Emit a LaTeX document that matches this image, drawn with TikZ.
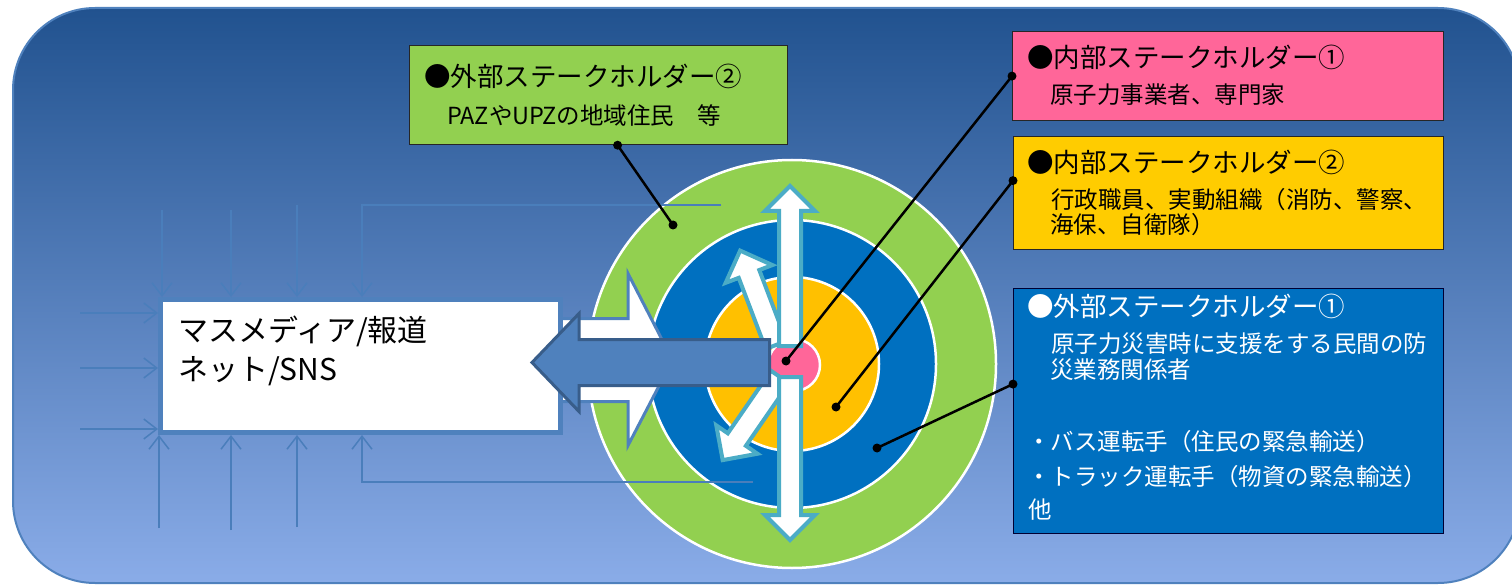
\documentclass[tikz,border=0pt]{standalone}
\usepackage{fontspec}
\setmainfont{Noto Sans CJK JP}
\usetikzlibrary{arrows.meta,calc}
\definecolor{bgtop}{RGB}{33,82,143}
\definecolor{bgbot}{RGB}{138,172,232}
\definecolor{bgline}{RGB}{79,129,189}
\definecolor{thinblue}{RGB}{74,126,187}
\definecolor{ringgreen}{RGB}{146,208,80}
\definecolor{ringblue}{RGB}{0,112,192}
\definecolor{ringyellow}{RGB}{255,192,0}
\definecolor{ringpink}{RGB}{255,102,153}
\definecolor{boxyellow}{RGB}{255,204,0}
\definecolor{arrowblue}{RGB}{79,129,189}
\definecolor{arrowdark}{RGB}{56,93,138}
\definecolor{aqua}{RGB}{75,172,198}
\tikzset{
  bodytxt/.style={inner sep=0pt, anchor=base west, font=\fontsize{23.5}{27}\selectfont},
  titletxt/.style={inner sep=0pt, anchor=base west, font=\fontsize{26.5}{30}\selectfont},
  mediatxt/.style={inner sep=0pt, anchor=base west, font=\fontsize{30}{34}\selectfont},
  infobox/.style={draw=black!85, line width=1.2pt, anchor=north west, inner sep=0pt},
  thinarrow/.style={draw=thinblue, line width=1.5pt, -{Straight Barb[length=13pt,width=20pt]}},
  ring/.style={draw=white, line width=2.5pt},
  stararrow/.style={draw=aqua, fill=white, line width=4pt, line join=miter},
  leader/.style={draw=black, line width=2.5pt},
  leaderdot/.style={fill=black},
}
\newcommand\blockarrowat[6]{% x, y, angle, length, shaft half width, head half width
  \begin{scope}[shift={(#1,#2)}, rotate=#3]
    \draw[stararrow] (0,-#5) -- ({#4-25},-#5) -- ({#4-25},-#6) -- (#4,0)
      -- ({#4-25},#6) -- ({#4-25},#5) -- (0,#5) -- cycle;
  \end{scope}}
\begin{document}
\begin{tikzpicture}[x=1pt,y=-1pt]
\useasboundingbox (0,0) rectangle (1512,585);
% background
\path[top color=bgtop, bottom color=bgbot, draw=bgline, line width=2pt, rounded corners=82pt]
  (13,8) rectangle (1520,583);

% target rings
\filldraw[ring, fill=ringgreen] (792,364) circle[radius=204pt];
\filldraw[ring, fill=ringblue] (792,364) circle[radius=144pt];
\filldraw[ring, fill=ringyellow] (792,364) circle[radius=87pt];
\filldraw[ring, fill=ringpink] (794,365) circle[radius=26pt];

\coordinate (mmc) at (360.5,366);

% white right arrow (behind box)
\draw[draw=bgline, fill=white, line width=3pt, line join=miter]
  (555,318.5) -- (628,318.5) -- (628,273.5) -- (672.5,360) -- (628,445.5)
  -- (628,401.5) -- (555,401.5) -- cycle;

\node[draw=bgline, fill=white, line width=5pt, minimum width=400pt, minimum height=133pt, inner sep=0pt] (mm) at (mmc) {};
\node[mediatxt] (mmt1) at (178,341) {マスメディア/報道};
\node[mediatxt] (mmt2) at (178,380) {ネット/SNS};

% thin arrows into the media box
\coordinate (l1) at (80,313);
\coordinate (l2) at (80,368);
\coordinate (l3) at (80,429);
\draw[thinarrow] (l1) -- (l1 -| mm.west);
\draw[thinarrow] (l2) -- (l2 -| mm.west);
\draw[thinarrow] (l3) -- (l3 -| mm.west);
\coordinate (t1) at (162,210);
\coordinate (t2) at (231,210);
\coordinate (t3) at (297,205);
\coordinate (t4) at (721,205);
\draw[thinarrow] (t1) -- (t1 |- mm.north);
\draw[thinarrow] (t2) -- (t2 |- mm.north);
\draw[thinarrow] (t3) -- (t3 |- mm.north);
\draw[thinarrow] (t4) -- (362,205) -- (362,0 |- mm.north);
\coordinate (b1) at (159,528);
\coordinate (b2) at (231,530);
\coordinate (b3) at (297,527);
\coordinate (b4) at (753,482);
\draw[thinarrow] (b1) -- (b1 |- mm.south);
\draw[thinarrow] (b2) -- (b2 |- mm.south);
\draw[thinarrow] (b3) -- (b3 |- mm.south);
\draw[thinarrow] (b4) -- (362,482) -- (362,0 |- mm.south);

% radiating arrows
\blockarrowat{776}{345}{110.8}{101}{11}{25}
\blockarrowat{780}{377}{235.4}{101}{11}{25}
\blockarrowat{790}{346}{90}{160}{11}{25}
\blockarrowat{790}{377}{-90}{163}{11}{25}

% blue left arrow
\draw[draw=arrowdark, fill=arrowblue, line width=3pt, line join=miter]
  (769.5,339.5) -- (579,339.5) -- (579,313.5) -- (532,362.5) -- (579,411.5)
  -- (579,385.5) -- (769.5,385.5) -- cycle;

% info boxes
\node[infobox, fill=ringgreen, minimum width=378pt, minimum height=99pt] (gbox) at (409,45) {};
\node[titletxt] (gt1) at (424,86.6) {●外部ステークホルダー②};
\node[bodytxt] (gt2) at (447,125) {PAZやUPZの地域住民　等};

\node[infobox, fill=ringpink, minimum width=431pt, minimum height=89pt] (pbox) at (1012,31) {};
\node[titletxt] (pt1) at (1027,67.1) {●内部ステークホルダー①};
\node[bodytxt] (pt2) at (1050,103.5) {原子力事業者、専門家};

\node[infobox, fill=boxyellow, minimum width=430pt, minimum height=113pt] (ybox) at (1013,136) {};
\node[titletxt] (yt1) at (1027,172.1) {●内部ステークホルダー②};
\node[bodytxt] (yt2) at (1051,209) {行政職員、実動組織（消防、警察、};
\node[bodytxt] (yt3) at (1050,233.5) {海保、自衛隊）};

\node[infobox, draw=black!80!blue, fill=ringblue, minimum width=430pt, minimum height=245pt] (bbox) at (1013,288) {};
\begin{scope}[text=white]
\node[titletxt] (bt1) at (1027,316.8) {●外部ステークホルダー①};
\node[bodytxt] (bt2) at (1051,352.5) {原子力災害時に支援をする民間の防};
\node[bodytxt] (bt3) at (1050,378.5) {災業務関係者};
\node[bodytxt] (bt4) at (1027,450.5) {・バス運転手（住民の緊急輸送）};
\node[bodytxt] (bt5) at (1027,485.5) {・トラック運転手（物資の緊急輸送）};
\node[bodytxt] (bt6) at (1028,518.5) {他};
\end{scope}

% leader lines with dots
\coordinate (gin) at (673,225);
\coordinate (pin) at (786,361);
\coordinate (yin) at (836,407);
\coordinate (bin) at (877,448);
\coordinate (gout) at ([xshift=19pt]gbox.south);
\coordinate (pout) at (pbox.west);
\coordinate (yout) at ([yshift=12.5pt]ybox.west);
\coordinate (bout) at ([yshift=27pt]bbox.west);
\foreach \a/\b in {gout/gin, pout/pin, yout/yin, bout/bin}{
  \draw[leader] (\a) -- (\b);
  \fill[leaderdot] (\a) circle[radius=4.5pt];
  \fill[leaderdot] (\b) circle[radius=4.5pt];
}
\end{tikzpicture}
\end{document}
